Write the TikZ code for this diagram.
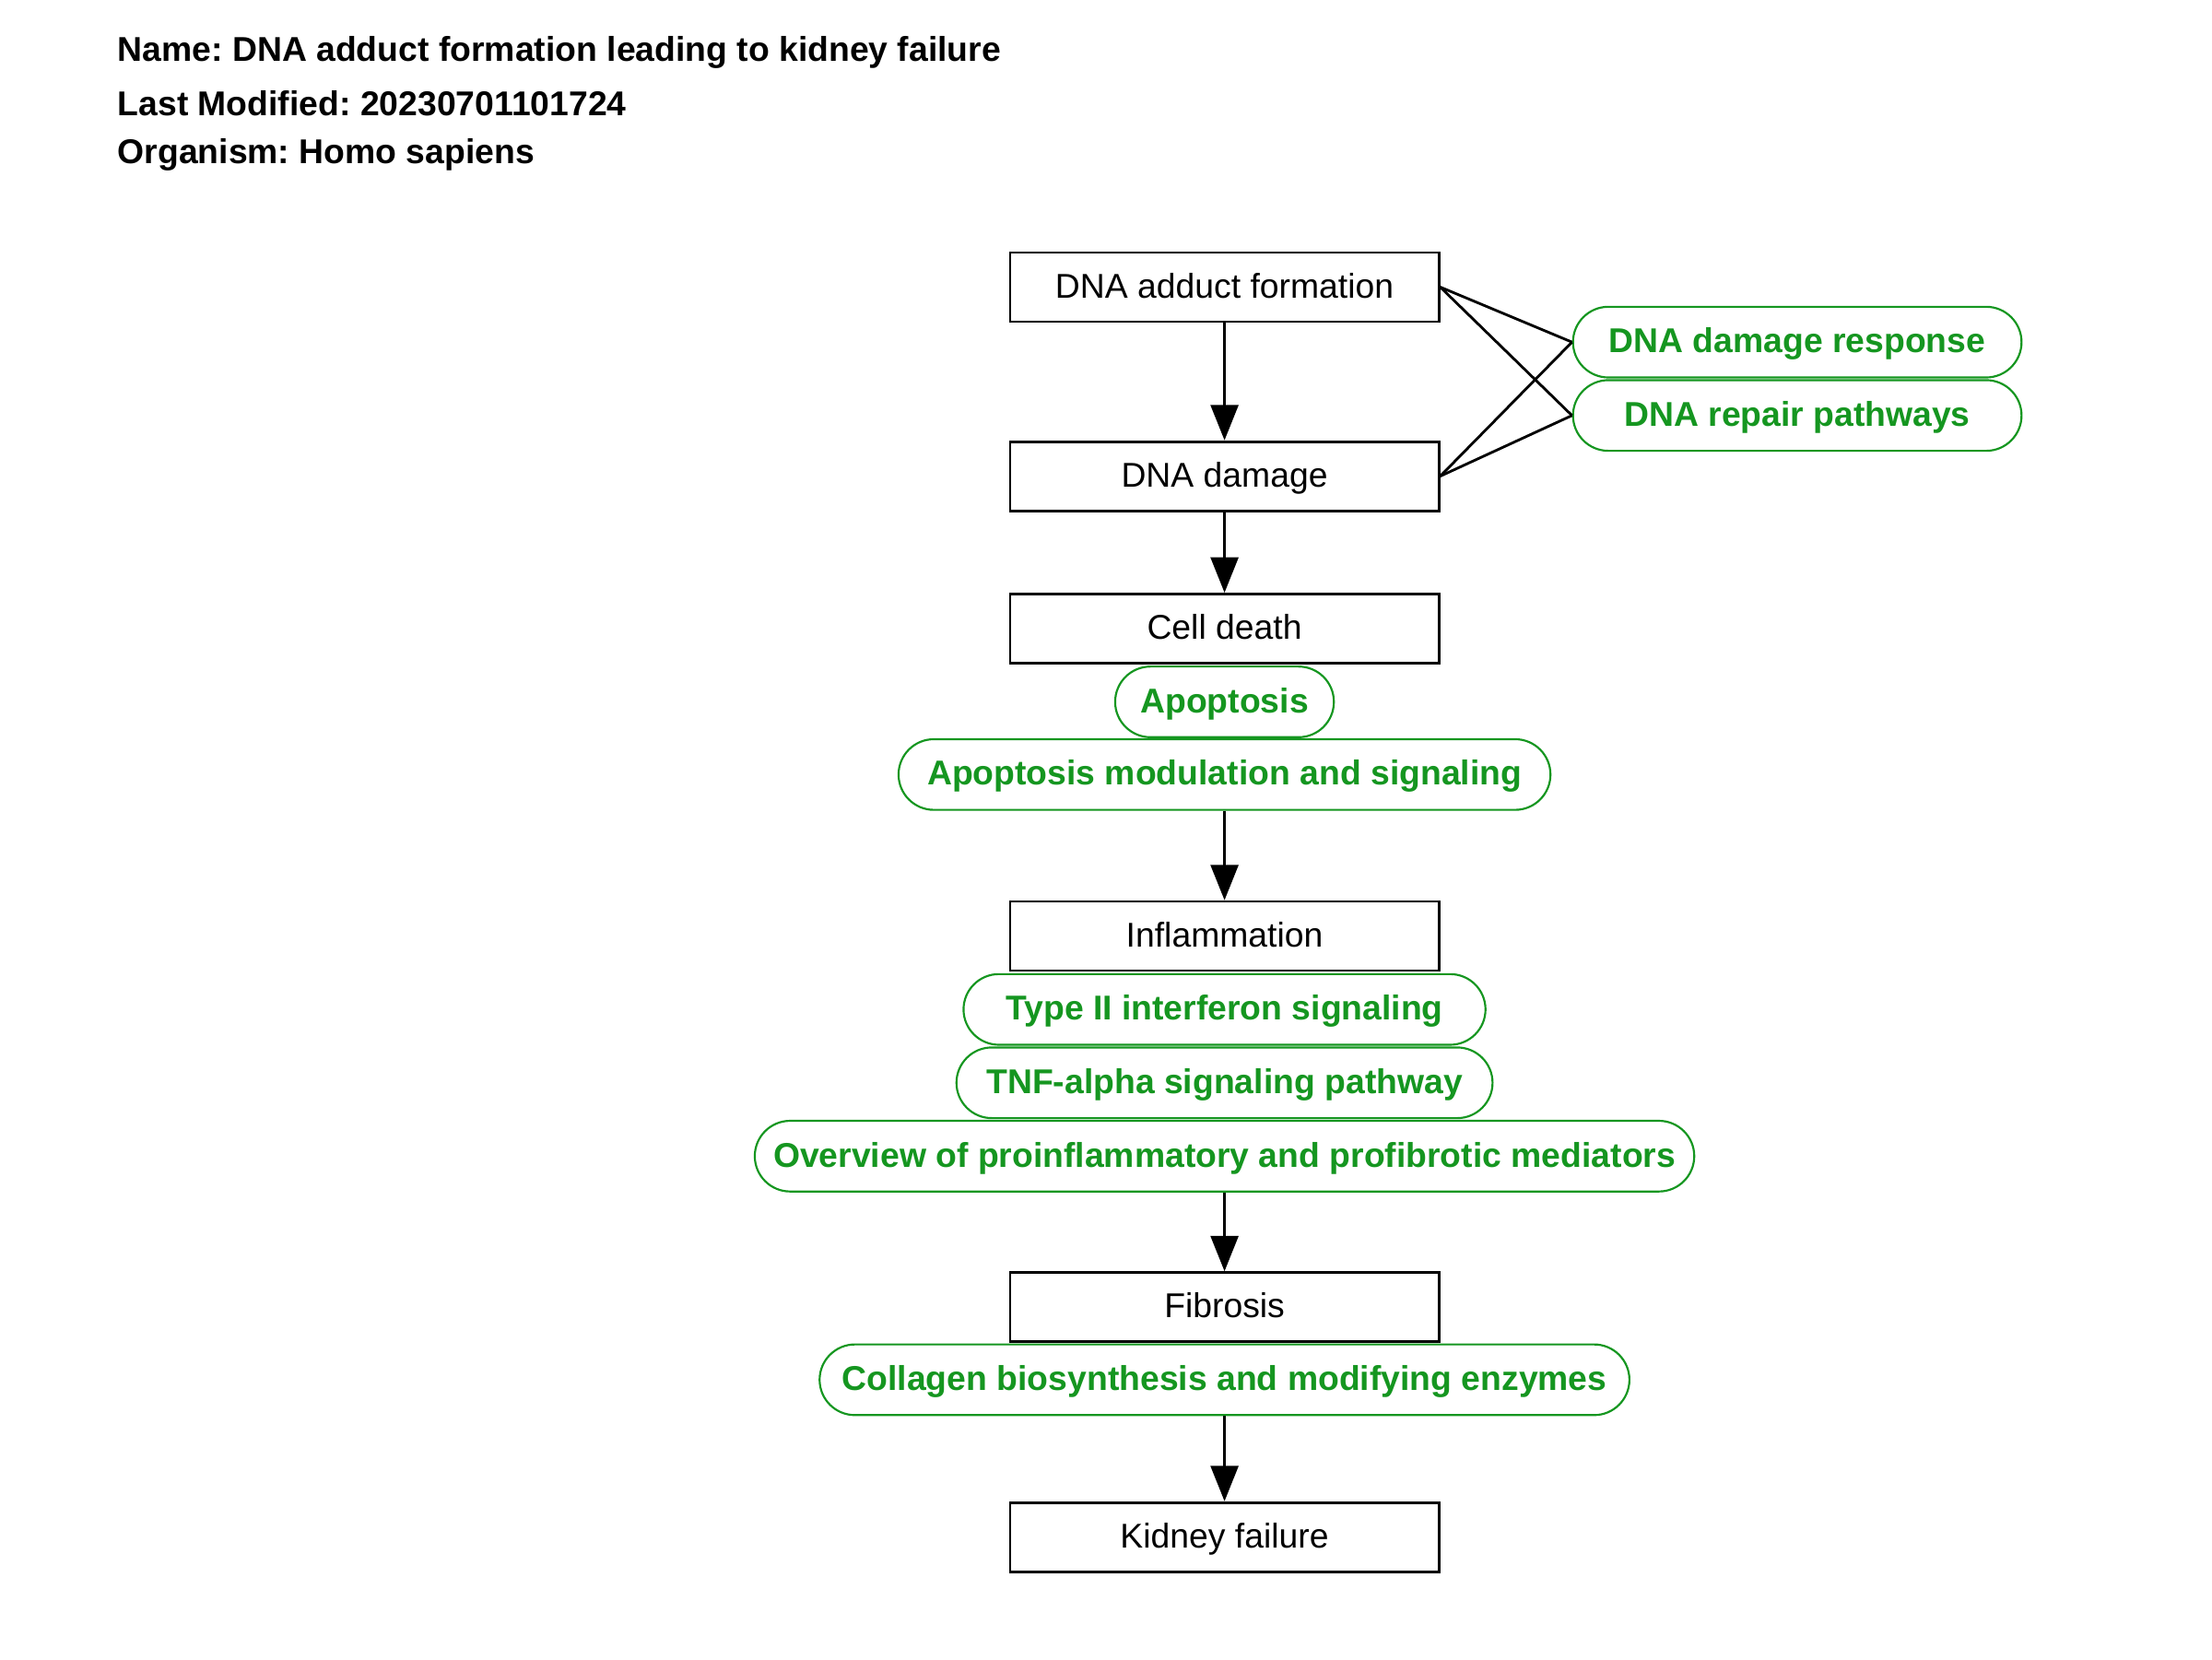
\documentclass[tikz,border=0pt]{standalone}
\usepackage{fontspec}
\setmainfont{Liberation Sans}
\frenchspacing
\usetikzlibrary{arrows.meta}
\definecolor{pgreen}{RGB}{21,150,32}
\tikzset{
  stepbox/.style={draw=black, line width=0.85pt, minimum width=139.6pt, minimum height=22.5pt, inner sep=0pt, text height=8.1pt, text depth=1.1pt, font=\fontsize{11.2}{13}\selectfont, fill=white},
  pill/.style={draw=pgreen, line width=0.65pt, text=pgreen, minimum height=23pt, inner sep=0pt, text height=8.1pt, text depth=1.1pt, rounded corners=11.5pt, font=\fontsize{11.2}{13}\selectfont\bfseries, fill=white},
  hdr/.style={anchor=west, inner sep=0pt, font=\fontsize{11.2}{13}\selectfont\bfseries},
  flow/.style={line width=0.85pt, -{Triangle[length=11.5pt,width=9pt]}},
  link/.style={line width=0.85pt}
}
\begin{document}
\begin{tikzpicture}[x=0.4592pt,y=-0.4592pt]
\useasboundingbox (0,0) rectangle (1568,1176);
\node[hdr] (h1) at (83,37) {Name: DNA adduct formation leading to kidney failure};
\node[hdr] (h2) at (83,73) {Last Modified: 20230701101724};
\node[hdr] (h3) at (83,110) {Organism: Homo sapiens};

\node[stepbox] (a) at (868,203.5) {DNA adduct formation};
\node[stepbox] (b) at (868,337.5) {DNA damage};
\node[stepbox] (c) at (868,445.5) {Cell death};
\node[stepbox] (d) at (868,663.5) {Inflammation};
\node[stepbox] (e) at (868,926.5) {Fibrosis};
\node[stepbox] (f) at (868,1089.5) {Kidney failure};

\node[pill, minimum width=146pt] (p1) at (1274,242.5) {DNA damage response};
\node[pill, minimum width=146pt] (p2) at (1274,294.5) {DNA repair pathways};
\node[pill, minimum width=71.2pt] (p3) at (868,497.5) {Apoptosis};
\node[pill, minimum width=212.2pt] (p4) at (868,549) {Apoptosis modulation and signaling};
\node[pill, minimum width=169.9pt] (p5) at (868,715.5) {Type II interferon signaling};
\node[pill, minimum width=174.5pt] (p6) at (868,767.5) {TNF-alpha signaling pathway};
\node[pill, minimum width=305.8pt] (p7) at (868,819.5) {Overview of proinflammatory and profibrotic mediators};
\node[pill, minimum width=263.6pt] (p8) at (868,978) {Collagen biosynthesis and modifying enzymes};

\draw[flow] (a.south) -- (b.north);
\draw[flow] (b.south) -- (c.north);
\draw[flow] (p4.south) -- (d.north);
\draw[flow] (p7.south) -- (e.north);
\draw[flow] (p8.south) -- (f.north);

\draw[link] (a.east) -- (p1.west);
\draw[link] (a.east) -- (p2.west);
\draw[link] (b.east) -- (p1.west);
\draw[link] (b.east) -- (p2.west);
\end{tikzpicture}
\end{document}
